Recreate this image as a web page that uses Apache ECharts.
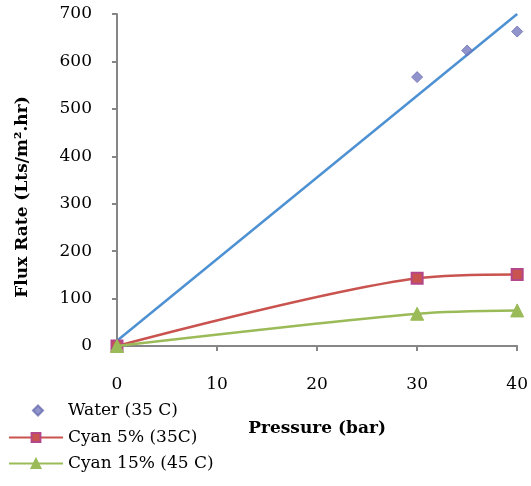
<!DOCTYPE html>
<html>
<head>
<meta charset="utf-8">
<script src="https://cdn.jsdelivr.net/npm/echarts@6/dist/echarts.min.js"></script>
<style>
  html, body { margin: 0; padding: 0; background: #ffffff; }
  #chart { width: 531px; height: 486px; }
</style>
</head>
<body>
<div id="chart"></div>
<script>
// Pressure (bar) readings and measured flux for each feed
const waterPressure = [0, 30, 35, 40];
const waterFlux = [0, 567, 623, 663];
const cyan5Pressure = [0, 30, 40];
const cyan5Flux = [0, 143, 151];
const cyan15Pressure = [0, 30, 40];
const cyan15Flux = [0, 68, 75];

const xTicks = [0, 10, 20, 30, 40];
const yTicks = [0, 100, 200, 300, 400, 500, 600, 700];

// Least-squares linear trend through the water points
function linearFit(xs, ys) {
  const n = xs.length;
  const mx = xs.reduce((a, b) => a + b, 0) / n;
  const my = ys.reduce((a, b) => a + b, 0) / n;
  let sxy = 0, sxx = 0;
  for (let i = 0; i < n; i++) {
    sxy += (xs[i] - mx) * (ys[i] - my);
    sxx += (xs[i] - mx) * (xs[i] - mx);
  }
  const slope = sxy / sxx;
  return { slope, intercept: my - slope * mx };
}
const fit = linearFit(waterPressure, waterFlux);
const trendX = [xTicks[0], xTicks[xTicks.length - 1]];
const trendData = trendX.map(x => [x, fit.intercept + fit.slope * x]);

const pairs = (xs, ys) => xs.map((x, i) => [x, ys[i]]);

const FONT = '"DejaVu Serif", "Liberation Serif", serif';
const axisColor = '#868686';
const legendText = { fontFamily: FONT, fontSize: 17, color: '#000' };

const chart = echarts.init(document.getElementById('chart'), null, { renderer: 'canvas' });
chart.setOption({
  animation: false,
  backgroundColor: '#ffffff',
  grid: { left: 117, right: 13, top: 14, bottom: 140, containLabel: false },
  xAxis: {
    type: 'value',
    min: xTicks[0],
    max: xTicks[xTicks.length - 1],
    interval: 10,
    name: 'Pressure (bar)',
    nameLocation: 'middle',
    nameGap: 74,
    nameTextStyle: { fontFamily: FONT, fontWeight: 'bold', fontSize: 17, color: '#000' },
    axisLine: { show: true, lineStyle: { color: axisColor, width: 2 } },
    axisTick: { show: true, inside: false, length: 5, lineStyle: { color: axisColor, width: 2 } },
    axisLabel: { margin: 30, fontFamily: FONT, fontSize: 17, color: '#000' },
    splitLine: { show: false }
  },
  yAxis: {
    type: 'value',
    min: yTicks[0],
    max: yTicks[yTicks.length - 1],
    interval: 100,
    name: 'Flux Rate (Lts/m\u00b2.hr)',
    nameLocation: 'middle',
    nameGap: 86,
    nameRotate: 90,
    nameTextStyle: {
      fontFamily: FONT, fontWeight: 'bold', fontSize: 17, color: '#000',
      padding: [0, 34, 0, 0]
    },
    axisLine: { show: true, lineStyle: { color: axisColor, width: 2 } },
    axisTick: { show: true, inside: false, length: 5, lineStyle: { color: axisColor, width: 2 } },
    axisLabel: { margin: 25, fontFamily: FONT, fontSize: 17, color: '#000' },
    splitLine: { show: false }
  },
  legend: [
    {
      // marker-only entry for the water readings
      orient: 'vertical',
      left: 32,
      top: 402,
      padding: 0,
      itemWidth: 10,
      itemHeight: 10,
      textStyle: Object.assign({ padding: [0, 0, 0, 20] }, legendText),
      data: ['Water (35 C)']
    },
    {
      orient: 'vertical',
      left: 8,
      top: 429,
      padding: 0,
      itemWidth: 54,
      itemHeight: 11,
      itemGap: 9,
      textStyle: legendText,
      data: ['Cyan 5% (35C)', 'Cyan 15% (45 C)']
    }
  ],
  series: [
    {
      name: 'Water (35 C)',
      type: 'scatter',
      data: pairs(waterPressure, waterFlux),
      symbol: 'diamond',
      symbolSize: 11,
      itemStyle: { color: '#7579BE', borderColor: '#6A6EB0', borderWidth: 1 },
      z: 3
    },
    {
      name: 'Water trend',
      type: 'line',
      data: trendData,
      showSymbol: false,
      symbol: 'none',
      lineStyle: { color: '#4E91D2', width: 2.5 },
      z: 2
    },
    {
      name: 'Cyan 5% (35C)',
      type: 'line',
      data: pairs(cyan5Pressure, cyan5Flux),
      smooth: 0.3,
      symbol: 'rect',
      symbolSize: 11,
      lineStyle: { color: '#C9534F', width: 2.5 },
      itemStyle: { color: '#C9534F', borderColor: '#B4478A', borderWidth: 2 },
      z: 4
    },
    {
      name: 'Cyan 15% (45 C)',
      type: 'line',
      data: pairs(cyan15Pressure, cyan15Flux),
      smooth: 0.3,
      symbol: 'triangle',
      symbolSize: 13,
      lineStyle: { color: '#9BBB59', width: 2.5 },
      itemStyle: { color: '#9BBB59', borderColor: '#9BBB59', borderWidth: 1 },
      z: 5
    }
  ]
});
</script>
</body>
</html>
